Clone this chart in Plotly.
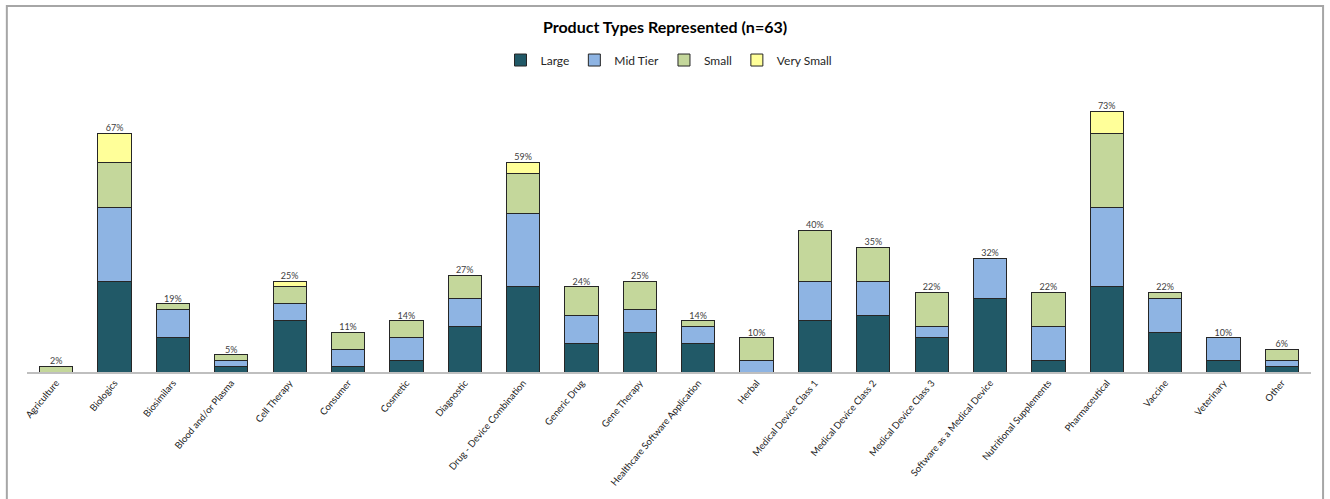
import plotly.graph_objects as go

N = 63
categories = ["Agriculture", "Biologics", "Biosimilars", "Blood and/or Plasma", "Cell Therapy",
              "Consumer", "Cosmetic", "Diagnostic", "Drug - Device Combination", "Generic Drug",
              "Gene Therapy", "Healthcare Software Application", "Herbal", "Medical Device Class 1",
              "Medical Device Class 2", "Medical Device Class 3", "Software as a Medical Device",
              "Nutritional Supplements", "Pharmaceutical", "Vaccine", "Veterinary", "Other"]
large = [0, 16, 6, 1, 9, 1, 2, 8, 15, 5, 7, 5, 0, 9, 10, 6, 13, 2, 15, 7, 2, 1]
mid_tier = [0, 13, 5, 1, 3, 3, 4, 5, 13, 5, 4, 3, 2, 7, 6, 2, 7, 6, 14, 6, 4, 1]
small = [1, 8, 1, 1, 3, 3, 3, 4, 7, 5, 5, 1, 4, 9, 6, 6, 0, 6, 13, 1, 0, 2]
very_small = [0, 5, 0, 0, 1, 0, 0, 0, 2, 0, 0, 0, 0, 0, 0, 0, 0, 0, 4, 0, 0, 0]

series = [("Large", large, "#215967"), ("Mid Tier", mid_tier, "#8EB4E3"),
          ("Small", small, "#C4D79B"), ("Very Small", very_small, "#FFFF99")]

fig = go.Figure()
for name, vals, col in series:
    fig.add_trace(go.Bar(
        x=categories, y=[v / N * 100 for v in vals], name=name,
        marker=dict(color=col, line=dict(color="#262626", width=1)),
        hoverinfo="skip"))

totals = [(a + b + c + d) / N * 100 for a, b, c, d in zip(large, mid_tier, small, very_small)]
fig.add_trace(go.Scatter(
    x=categories, y=totals, mode="text", text=[f"{round(t)}%" for t in totals],
    textposition="top center", textfont=dict(size=9, color="#404040", family="Lato"),
    showlegend=False, hoverinfo="skip", cliponaxis=False))

fig.update_layout(
    barmode="stack", bargap=0.43,
    width=1330, height=499,
    margin=dict(l=27, r=19, t=100, b=127),
    paper_bgcolor="white", plot_bgcolor="white",
    font=dict(family="Lato", color="#262626"),
    title=dict(text="<b>Product Types Represented (n=63)</b>", x=0.5, xanchor="center",
               y=1 - 27 / 499, yanchor="middle", font=dict(size=16, color="#000000")),
    legend=dict(orientation="h", x=0.5, xanchor="center", y=1.147, yanchor="middle",
                font=dict(size=12, color="#262626"), traceorder="normal",
                itemwidth=30, bgcolor="rgba(0,0,0,0)"),
    xaxis=dict(tickangle=-50, tickfont=dict(size=9.5, color="#1a1a1a"), showline=True,
               linecolor="#BFBFBF", linewidth=1.5, ticks="", showgrid=False, fixedrange=True,
               range=[-0.5, len(categories) - 0.5]),
    yaxis=dict(visible=False, range=[0, 76.1], showgrid=False, fixedrange=True),
    shapes=[dict(type="rect", xref="paper", yref="paper", x0=-0.0157, x1=1.0094,
                 y0=-0.6, y1=1.346, line=dict(color="#A6A6A6", width=2), layer="below")],
)

fig.write_html("out.html")
